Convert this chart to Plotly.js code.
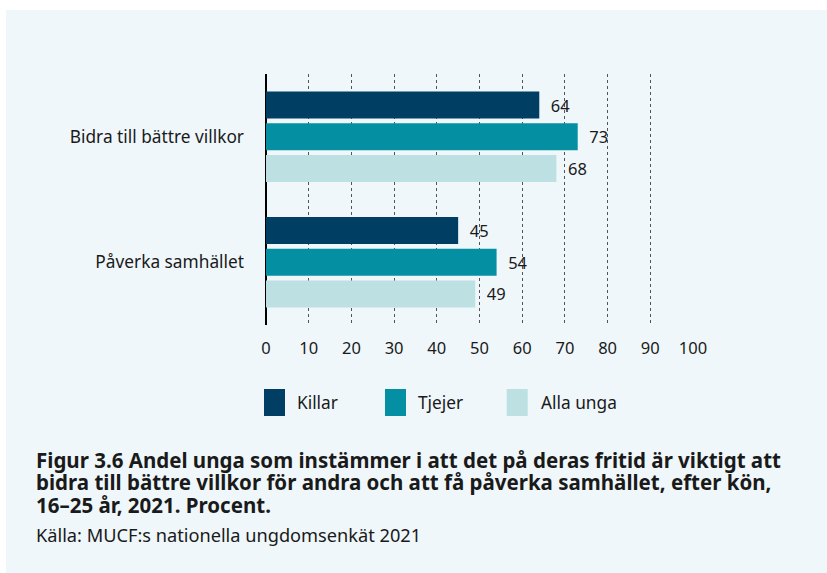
<!DOCTYPE html>
<html>
<head>
<meta charset="utf-8">
<script src="https://cdn.plot.ly/plotly-3.0.1.min.js"></script>
<style>
  html, body { margin: 0; padding: 0; background: #ffffff; width: 827px; height: 573px; overflow: hidden; }
  #chart { position: absolute; left: 6px; top: 10px; width: 821px; height: 563px; }
</style>
</head>
<body>
<div id="chart"></div>
<script>
// ---- Data ----
const categories = ["Bidra till bättre villkor", "Påverka samhället"];
const seriesNames = ["Killar", "Tjejer", "Alla unga"];
const killar = [64, 45];
const tjejer = [73, 54];
const allaUnga = [68, 49];
const xTicks = [0, 10, 20, 30, 40, 50, 60, 70, 80, 90, 100];
const titleLines = [
  "Figur 3.6 Andel unga som instämmer i att det på deras fritid är viktigt att",
  "bidra till bättre villkor för andra och att få påverka samhället, efter kön,",
  "16–25 år, 2021. Procent."
];
const sourceText = "Källa: MUCF:s nationella ungdomsenkät 2021";

// ---- Style ----
const colors = ["#003f63", "#048fa3", "#bde0e3"];
const FONT = "Noto Sans, Open Sans, sans-serif";
const TXT = "#1a1a1a";
const L = 260, W = 427, T = 64, H = 251;
const DIVW = 821, DIVH = 563, OX = 6, OY = 10;
// page px -> paper coords
const px = x => (x - OX - L) / W;
const py = y => 1 - (y - OY - T) / H;

const values = [killar, tjejer, allaUnga];
const traces = seriesNames.map((name, i) => ({
  type: "bar",
  orientation: "h",
  name: name,
  y: categories,
  x: values[i],
  marker: { color: colors[i], line: { width: 0 } },
  text: values[i].map(v => "\u00a0\u00a0" + v),
  textposition: "outside",
  textfont: { family: FONT, size: 16.5, color: TXT },
  constraintext: "none",
  cliponaxis: false,
  hoverinfo: "skip"
}));

// legend drawn with shapes + annotations
const legendSwatchX = [264, 385, 506.7];
const legendTextX = [294.5, 416, 538.5];
const shapes = [];
const annotations = [];
seriesNames.forEach((name, i) => {
  shapes.push({
    type: "rect", xref: "paper", yref: "paper",
    x0: px(legendSwatchX[i]), x1: px(legendSwatchX[i] + 21),
    y0: py(416), y1: py(389),
    fillcolor: colors[i], line: { width: 0 }
  });
  annotations.push({
    xref: "paper", yref: "paper", x: px(legendTextX[i]), y: py(402.5),
    xanchor: "left", yanchor: "middle", showarrow: false,
    text: name, font: { family: FONT, size: 17.3, color: TXT }
  });
});

const titleY = [459.5, 482, 504.5];
titleLines.forEach((t, i) => {
  annotations.push({
    xref: "paper", yref: "paper", x: px(35), y: py(titleY[i]),
    xanchor: "left", yanchor: "middle", showarrow: false, align: "left",
    borderpad: 0,
    text: "<b>" + t + "</b>", font: { family: FONT, size: 20.5, color: TXT }
  });
});
annotations.push({
  xref: "paper", yref: "paper", x: px(35), y: py(534.5),
  xanchor: "left", yanchor: "middle", showarrow: false, align: "left",
  borderpad: 0,
  text: sourceText, font: { family: FONT, size: 18.2, color: TXT }
});

const layout = {
  width: DIVW, height: DIVH,
  margin: { l: L, r: DIVW - L - W, t: T, b: DIVH - T - H, pad: 0 },
  paper_bgcolor: "#eff7fa",
  plot_bgcolor: "rgba(0,0,0,0)",
  barmode: "group",
  bargap: 0.243,
  bargroupgap: 0.147,
  showlegend: false,
  font: { family: FONT, color: TXT, size: 16.5 },
  xaxis: {
    range: [0, 100],
    tickvals: xTicks,
    ticktext: xTicks.map(String),
    showgrid: true, gridcolor: "#555555", gridwidth: 1, griddash: "dot",
    zeroline: true, zerolinecolor: "#000000", zerolinewidth: 1.5,
    showline: false, ticks: "",
    ticklabelstandoff: 11,
    tickfont: { family: FONT, size: 16.5, color: TXT },
    fixedrange: true
  },
  yaxis: {
    type: "category",
    autorange: "reversed",
    showgrid: false, zeroline: false, showline: false, ticks: "",
    ticklabelstandoff: 21,
    tickfont: { family: FONT, size: 17.3, color: TXT },
    fixedrange: true
  },
  shapes: shapes,
  annotations: annotations
};

Plotly.newPlot("chart", traces, layout, { displayModeBar: false, staticPlot: true });
</script>
</body>
</html>
